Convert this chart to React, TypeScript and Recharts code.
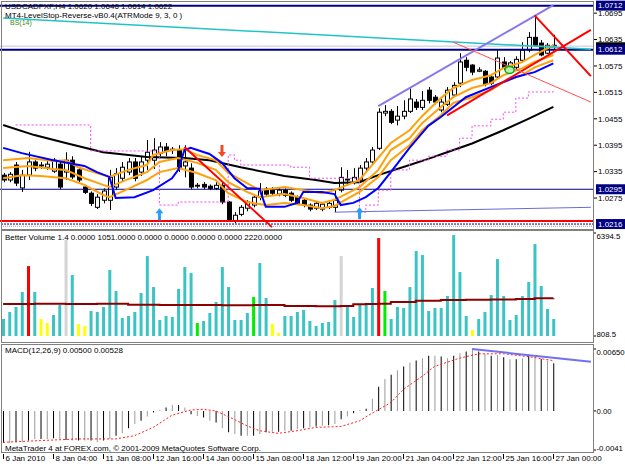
import React from 'react';
import { ComposedChart, Bar, Line, XAxis, YAxis, ReferenceLine, ReferenceDot, Cell } from 'recharts';

const FONT = '"Liberation Sans", Arial, sans-serif';
const SLOTS = 95; // 89 bars plus the empty chart shift on the right

// USDCAD H4, 6 Jan 20:00 .. 27 Jan 00:00
const opens = [
  1.0327, 1.0316, 1.035, 1.0298, 1.0327, 1.0357, 1.035, 1.0345, 1.0336, 1.0352,
  1.0334, 1.0361, 1.0339, 1.03, 1.0286, 1.0254, 1.027, 1.027, 1.03, 1.032,
  1.0334, 1.0357, 1.0334, 1.0361, 1.0361, 1.0377, 1.0391, 1.0386, 1.0384, 1.0348,
  1.0343, 1.0302, 1.0306, 1.0302, 1.0297, 1.0304, 1.0266, 1.0223, 1.0238, 1.0252,
  1.0259, 1.0277, 1.0295, 1.0293, 1.0284, 1.0293, 1.0286, 1.0277, 1.027, 1.0259,
  1.0252, 1.025, 1.0254, 1.0254, 1.0293, 1.0316, 1.0311, 1.0316, 1.0343, 1.0357,
  1.0388, 1.0468, 1.0472, 1.0452, 1.0461, 1.0472, 1.0493, 1.0481, 1.052, 1.0504,
  1.0475, 1.0488, 1.0509, 1.0536, 1.0588, 1.0577, 1.0563, 1.0563, 1.055, 1.055,
  1.0584, 1.0568, 1.0572, 1.0588, 1.0611, 1.064, 1.0627, 1.0604, 1.062,
];
const highs = [
  1.0332, 1.0334, 1.0357, 1.0339, 1.038, 1.0361, 1.0357, 1.0359, 1.0366, 1.0359,
  1.0379, 1.037, 1.0343, 1.0304, 1.029, 1.0284, 1.0297, 1.0339, 1.0343, 1.0357,
  1.0366, 1.0366, 1.037, 1.0407, 1.0411, 1.0402, 1.04, 1.0391, 1.0395, 1.0395,
  1.0354, 1.0309, 1.0311, 1.0306, 1.0311, 1.0313, 1.0268, 1.0243, 1.0259, 1.027,
  1.0284, 1.0309, 1.03, 1.03, 1.03, 1.0297, 1.029, 1.0281, 1.0275, 1.0263,
  1.0268, 1.0266, 1.027, 1.0295, 1.0345, 1.0339, 1.0343, 1.035, 1.0366, 1.0391,
  1.0479, 1.0486, 1.0477, 1.0484, 1.0497, 1.0524, 1.05, 1.0518, 1.0527, 1.0509,
  1.05, 1.0527, 1.0538, 1.0604, 1.0595, 1.0579, 1.0572, 1.0566, 1.0554, 1.0611,
  1.0595, 1.0586, 1.0597, 1.0629, 1.0652, 1.0686, 1.0634, 1.0627, 1.0646,
];
const lows = [
  1.0311, 1.0311, 1.0302, 1.0289, 1.0316, 1.0336, 1.0341, 1.0339, 1.0332, 1.0295,
  1.0316, 1.0318, 1.0311, 1.0284, 1.0257, 1.025, 1.0263, 1.0248, 1.0293, 1.0313,
  1.0327, 1.0313, 1.0325, 1.0339, 1.0341, 1.037, 1.037, 1.0375, 1.0334, 1.0322,
  1.0295, 1.0297, 1.0295, 1.0293, 1.0293, 1.0261, 1.0222, 1.0218, 1.0234, 1.0245,
  1.0254, 1.027, 1.0279, 1.0281, 1.0279, 1.0277, 1.0266, 1.0259, 1.0254, 1.0245,
  1.0248, 1.0245, 1.025, 1.0243, 1.0288, 1.0304, 1.0306, 1.0309, 1.0336, 1.035,
  1.0384, 1.0461, 1.0443, 1.044, 1.0454, 1.0468, 1.0475, 1.0475, 1.049, 1.0488,
  1.047, 1.0484, 1.0506, 1.0527, 1.0563, 1.0554, 1.0561, 1.0529, 1.0531, 1.0547,
  1.0566, 1.0561, 1.0566, 1.0586, 1.0606, 1.0618, 1.0597, 1.0602, 1.0614,
];
const closes = [
  1.0316, 1.0329, 1.0309, 1.0327, 1.0357, 1.0343, 1.0348, 1.0352, 1.0361, 1.03,
  1.0361, 1.0323, 1.0316, 1.0288, 1.0263, 1.0277, 1.0291, 1.0322, 1.033, 1.0345,
  1.0357, 1.032, 1.0357, 1.0379, 1.0384, 1.0391, 1.0382, 1.0384, 1.0345, 1.0357,
  1.03, 1.0304, 1.03, 1.0297, 1.0304, 1.0266, 1.0225, 1.0236, 1.0254, 1.0266,
  1.0277, 1.0293, 1.0284, 1.0286, 1.0293, 1.0281, 1.027, 1.0263, 1.0259, 1.025,
  1.0263, 1.0261, 1.0263, 1.027, 1.0322, 1.0318, 1.0322, 1.0343, 1.0357, 1.0384,
  1.047, 1.0472, 1.0447, 1.0461, 1.0472, 1.05, 1.0481, 1.0497, 1.0497, 1.0493,
  1.0493, 1.052, 1.0531, 1.0584, 1.0572, 1.0561, 1.0566, 1.0534, 1.0536, 1.0593,
  1.057, 1.0582, 1.059, 1.0611, 1.064, 1.0622, 1.06, 1.0622, 1.0622,
];

// indicator lines, read at [bar, price]
type Pt = [number, number];
const longMa: Pt[] = [
  [0, 1.0441], [5, 1.0418], [10, 1.04], [16, 1.0379], [23, 1.0368], [29, 1.0366], [33, 1.0361],
  [38, 1.0345], [45, 1.0325], [50, 1.0316], [53, 1.0309], [57, 1.0311], [60, 1.0327], [65, 1.035],
  [68, 1.0364], [71, 1.0379], [75, 1.0399], [80, 1.0429], [84, 1.0455], [88, 1.0482],
];
const envUpper: Pt[] = [
  [0, 1.0361], [4, 1.0366], [8, 1.0359], [10, 1.0361], [12, 1.0345], [16, 1.0327], [17, 1.0323],
  [20, 1.0339], [23, 1.035], [24, 1.0373], [27, 1.0384], [29, 1.0386], [31, 1.0373], [34, 1.0361],
  [36, 1.0332], [39, 1.0309], [41, 1.0293], [45, 1.03], [48, 1.0293], [51, 1.0286], [53, 1.0293],
  [57, 1.0316], [59, 1.035], [62, 1.04], [65, 1.0429], [67, 1.0461], [70, 1.0502], [72, 1.0525],
  [75, 1.0543], [78, 1.0554], [80, 1.057], [83, 1.0584], [85, 1.06], [88, 1.0622],
];
const envMid: Pt[] = [
  [0, 1.0343], [4, 1.0348], [8, 1.0341], [10, 1.0339], [13, 1.032], [16, 1.0305], [17, 1.03],
  [20, 1.0318], [23, 1.0334], [25, 1.0357], [28, 1.0366], [31, 1.0355], [34, 1.0339], [36, 1.0311],
  [39, 1.0289], [41, 1.0277], [45, 1.0284], [48, 1.0275], [51, 1.0264], [53, 1.0271], [57, 1.03],
  [60, 1.0339], [62, 1.0384], [65, 1.0411], [67, 1.0445], [70, 1.0482], [72, 1.0504], [75, 1.0525],
  [78, 1.0536], [80, 1.0554], [83, 1.057], [85, 1.0584], [88, 1.06],
];
const envLower: Pt[] = [
  [0, 1.032], [3, 1.0327], [6, 1.0325], [10, 1.032], [13, 1.0305], [16, 1.0282], [17, 1.0277],
  [20, 1.0296], [23, 1.0316], [25, 1.0334], [28, 1.0343], [31, 1.0332], [34, 1.0316], [36, 1.0286],
  [39, 1.0266], [42, 1.0259], [45, 1.0264], [48, 1.0259], [51, 1.0252], [53, 1.0257], [57, 1.0289],
  [60, 1.0323], [62, 1.0361], [65, 1.0395], [67, 1.0429], [70, 1.0463], [72, 1.0491], [75, 1.0504],
  [78, 1.052], [80, 1.0538], [83, 1.0554], [85, 1.0572], [88, 1.0588],
];
const levelStop: Pt[] = [
  [0, 1.0389], [3, 1.0377], [8, 1.0361], [13, 1.0348], [15, 1.0334], [17, 1.0323], [18, 1.0275],
  [21, 1.0277], [24, 1.0293], [27, 1.032], [28, 1.0339], [29, 1.0384], [30, 1.0389], [33, 1.0375],
  [35, 1.0355], [37, 1.032], [39, 1.0298], [41, 1.0296], [42, 1.0255], [45, 1.0255], [47, 1.0264],
  [48, 1.0289], [51, 1.0289], [53, 1.0284], [54, 1.0259], [56, 1.0264], [58, 1.0277], [60, 1.0298],
  [62, 1.0334], [65, 1.0389], [68, 1.0439], [70, 1.0459], [74, 1.0504], [78, 1.0527], [82, 1.055],
  [85, 1.0561], [88, 1.0581],
];
const bsStop: Pt[] = [
  [2, 1.0441], [12, 1.0441], [14, 1.0382], [24, 1.0382], [25, 1.0259], [27, 1.0259], [28, 1.0266],
  [35, 1.0266], [36, 1.0373], [37, 1.0361], [38, 1.035], [45, 1.035], [46, 1.0345], [49, 1.032],
  [56, 1.032], [57, 1.0243], [58, 1.0259], [60, 1.0293], [62, 1.0339], [65, 1.0361], [68, 1.037],
  [71, 1.0384], [73, 1.0411], [75, 1.0439], [78, 1.0454], [80, 1.047], [82, 1.0502], [84, 1.0516],
  [88, 1.052],
];

// Better Volume 1.4
const volumes = [
  1730, 2110, 2380, 3193, 4600, 3193, 1730, 1513, 1947, 2488,
  6012, 4115, 1458, 1350, 2163, 2110, 2380, 4385, 3247, 1784,
  1893, 2110, 3139, 5144, 3464, 1676, 1893, 1838, 3356, 4548,
  4223, 1513, 1621, 2055, 2651, 4548, 3464, 1676, 1676, 2055,
  2922, 4765, 2868, 1458, 971, 1893, 1893, 2110, 2217, 1621,
  1350, 1513, 1567, 2759, 5144, 2488, 1838, 2488, 2488, 3410,
  6120, 3247, 1730, 2380, 2325, 3464, 5416, 5199, 2163, 2325,
  2325, 2976, 6283, 4277, 1893, 1134, 1730, 2110, 3030, 4982,
  2976, 1676, 1947, 2976, 3735, 5795, 3518, 2271, 1730,
];
// n neutral, u climax up, d climax down, l low volume, c churn
const volKinds = (
  'nnnnunllnn' + 'dnllnnnnnn' + 'nnnnnnnnnn' + 'ncnnnnnnnn' + 'cnnllnnnnn' +
  'nnnndnnnnn' + 'ucnnnnnnnn' + 'nnnnnlnnnn' + 'nnnnnnnnn'
).split('');
const volMa: Pt[] = [
  [0, 2540], [5, 2560], [10, 2540], [15, 2560], [20, 2500], [25, 2490], [30, 2490], [35, 2480],
  [40, 2490], [45, 2440], [50, 2420], [54, 2440], [56, 2530], [58, 2540], [60, 2560], [62, 2650],
  [66, 2720], [70, 2760], [74, 2780], [78, 2790], [82, 2810], [85, 2850], [88, 2860],
];

// MACD(12,26,9)
const macdHist = [
  -0.00336, -0.00336, -0.00329, -0.00329, -0.00311, -0.00294, -0.00294, -0.00294, -0.00287, -0.00294,
  -0.00304, -0.00311, -0.00311, -0.00311, -0.00311, -0.00329, -0.00311, -0.00294, -0.0026, -0.00232,
  -0.00183, -0.00138, -0.00104, -0.00059, -0.00017, 0.0001, 0.00035, 0.00062, 0.00062, 0.00035,
  -0.00035, -0.00052, -0.00069, -0.00104, -0.00121, -0.00183, -0.00225, -0.00242, -0.0026, -0.0026,
  -0.0026, -0.00242, -0.00225, -0.00218, -0.00218, -0.00208, -0.00208, -0.0019, -0.00183, -0.00173,
  -0.00163, -0.00156, -0.00149, -0.00138, -0.00087, -0.00059, -0.00024, 0.0001, 0.00024, 0.00128,
  0.00253, 0.00336, 0.00381, 0.00426, 0.00467, 0.00509, 0.00529, 0.00554, 0.00578, 0.00578,
  0.00571, 0.00554, 0.00578, 0.00606, 0.00623, 0.0064, 0.00623, 0.00599, 0.00578, 0.00588,
  0.00564, 0.00543, 0.00543, 0.00554, 0.00578, 0.0057, 0.00548, 0.0053, 0.005,
];
const macdSignal: Pt[] = [
  [0, -0.00329], [6, -0.00311], [12, -0.00294], [18, -0.00294], [21, -0.0026], [24, -0.00173],
  [27, -0.00045], [30, 0.0001], [32, 0.00017], [34, 0], [36, -0.00059], [39, -0.00156],
  [41, -0.00208], [44, -0.00235], [47, -0.00208], [50, -0.00173], [54, -0.00163], [57, -0.00104],
  [59, -0.00024], [62, 0.00087], [64, 0.00225], [67, 0.00363], [69, 0.00467], [73, 0.00554],
  [76, 0.00599], [80, 0.006], [84, 0.0057], [88, 0.00528],
];

const timeTicks = [0, 8, 16, 24, 32, 40, 48, 56, 64, 72, 80, 88];
const timeLabels = [
  '6 Jan 2010', '8 Jan 04:00', '11 Jan 08:00', '12 Jan 16:00', '14 Jan 00:00', '15 Jan 08:00',
  '18 Jan 12:00', '19 Jan 20:00', '21 Jan 04:00', '22 Jan 12:00', '25 Jan 16:00', '27 Jan 00:00',
];

const priceTicks = [1.0695, 1.0635, 1.0575, 1.0515, 1.0455, 1.0395, 1.0335, 1.0275, 1.0712, 1.0612, 1.0295, 1.0216];
const levelMarks = [1.0712, 1.0612, 1.0295, 1.0216];
const bidPrice = 1.0622;

const spread = (pts: Pt[]) => {
  const out: (number | null)[] = new Array(SLOTS).fill(null);
  pts.forEach(([i, v]) => {
    out[i] = v;
  });
  return out;
};

const cols = {
  ma: spread(longMa),
  up: spread(envUpper),
  mid: spread(envMid),
  lo: spread(envLower),
  stop: spread(levelStop),
  bs: spread(bsStop),
  volMa: spread(volMa),
  sig: spread(macdSignal),
};

const rows = Array.from({ length: SLOTS }, (_, i) => {
  const has = i < opens.length;
  return {
    i,
    o: has ? opens[i] : null,
    h: has ? highs[i] : null,
    l: has ? lows[i] : null,
    c: has ? closes[i] : null,
    range: has ? [lows[i], highs[i]] : null,
    ma: cols.ma[i],
    up: cols.up[i],
    mid: cols.mid[i],
    lo: cols.lo[i],
    stop: cols.stop[i],
    bs: cols.bs[i],
    vol: has ? volumes[i] : null,
    volMa: cols.volMa[i],
    macd: has ? macdHist[i] : null,
    sig: cols.sig[i],
  };
});

const kindColor: Record<string, string> = {
  n: '#3cc4c4',
  u: '#ff0000',
  d: '#d4d4d4',
  l: '#ffff00',
  c: '#00ee00',
};

function Candle(props: any) {
  const { x, y, width, height, payload } = props;
  if (!payload || payload.o == null || !isFinite(y) || !isFinite(height)) return <g />;
  const { o, h, l, c } = payload;
  const top = Math.min(y, y + height);
  const span = Math.abs(height);
  const k = span / (h - l);
  const cx = Math.round(x + width / 2) + 0.5;
  const bTop = top + (h - Math.max(o, c)) * k;
  const bBot = top + (h - Math.min(o, c)) * k;
  return (
    <g>
      <line x1={cx} x2={cx} y1={top} y2={top + span} stroke="#000" strokeWidth={1} />
      <rect
        x={cx - 2}
        y={bTop}
        width={4}
        height={Math.max(bBot - bTop, 0.8)}
        fill={c >= o ? '#fff' : '#000'}
        stroke="#000"
        strokeWidth={1}
      />
    </g>
  );
}

function PriceTick(props: any) {
  const { x, y, payload } = props;
  const v = payload.value as number;
  const label = v.toFixed(4);
  if (levelMarks.includes(v)) {
    return (
      <g>
        <rect x={x + 2} y={y - 5} width={32} height={10} fill="#000080" />
        <text x={x + 4} y={y} dy="0.35em" fill="#fff" fontSize={8} fontFamily={FONT}>
          {label}
        </text>
      </g>
    );
  }
  return (
    <g>
      <line x1={x} x2={x + 3} y1={y} y2={y} stroke="#000" />
      <text x={x + 4} y={y} dy="0.35em" fill="#000" fontSize={8} fontFamily={FONT}>
        {label}
      </text>
    </g>
  );
}

function SideTick(props: any) {
  const { x, y, payload, labels, top } = props;
  const v = payload.value as number;
  const shift = v === top ? 3 : v === labels.min ? -2 : 0;
  return (
    <g>
      <line x1={x} x2={x + 2} y1={y} y2={y} stroke="#000" />
      <text x={x + 2.5} y={y + shift} dy="0.35em" fill="#000" fontSize={7.8} fontFamily={FONT}>
        {labels[String(v)]}
      </text>
    </g>
  );
}

function TimeTick(props: any) {
  const { x, y, payload } = props;
  const idx = timeTicks.indexOf(payload.value);
  const gx = Math.round(x) + 0.5;
  return (
    <g>
      <line x1={gx} x2={gx} y1={y + 4} y2={y + 9} stroke="#000" />
      <text x={gx + 2} y={y + 11} fill="#000" fontSize={8} fontFamily={FONT}>
        {timeLabels[idx]}
      </text>
    </g>
  );
}

const UpArrow = (p: any) => {
  const { cx, cy } = p;
  const pts = [
    [cx, cy], [cx - 4, cy + 5], [cx - 1.5, cy + 5], [cx - 1.5, cy + 12],
    [cx + 1.5, cy + 12], [cx + 1.5, cy + 5], [cx + 4, cy + 5],
  ].map((q) => q.join(',')).join(' ');
  return <polygon points={pts} fill="#2a9df4" />;
};

const DownArrow = (p: any) => {
  const { cx, cy } = p;
  const pts = [
    [cx, cy], [cx - 4, cy - 5], [cx - 1.5, cy - 5], [cx - 1.5, cy - 12],
    [cx + 1.5, cy - 12], [cx + 1.5, cy - 5], [cx + 4, cy - 5],
  ].map((q) => q.join(',')).join(' ');
  return <polygon points={pts} fill="#f04a24" />;
};

const ChurnRing = (p: any) => (
  <ellipse cx={p.cx} cy={p.cy} rx={4.5} ry={3.5} fill="#b8f0b8" stroke="#10b010" strokeWidth={1.5} />
);

// the bid marker sits on the axis behind the 1.0612 level box
const BidMark = (p: any) => <rect x={596} y={p.cy - 3} width={29} height={5} fill="#000" />;

const buyArrows = [
  { i: 25, price: 1.0252 },
  { i: 57, price: 1.0254 },
];
const sellArrows = [{ i: 35, price: 1.0368 }];
const churnMarks = [{ i: 81, price: 1.0566 }];

const trendLines = [
  { from: [0, 1.0684], to: [94, 1.0613], color: '#20c4c4', w: 1.5 },
  { from: [60, 1.0484], to: [88, 1.0713], color: '#8878ee', w: 2 },
  { from: [53, 1.0243], to: [94, 1.0254], color: '#6a6ad8', w: 1 },
  { from: [29, 1.0391], to: [43, 1.0209], color: '#ff0000', w: 2 },
  { from: [71, 1.0463], to: [94, 1.0657], color: '#ff0000', w: 2 },
  { from: [85, 1.069], to: [94, 1.0552], color: '#ff0000', w: 2 },
  { from: [72, 1.0629], to: [94, 1.0493], color: '#ff5050', w: 1 },
];

const textStyle: React.CSSProperties = {
  position: 'absolute',
  fontFamily: FONT,
  fontSize: 8,
  lineHeight: '9px',
  whiteSpace: 'nowrap',
  color: '#000',
};

const frame = (top: number, height: number): React.CSSProperties => ({
  position: 'absolute',
  left: 1,
  top,
  width: 593,
  height,
  border: '1px solid #808080',
  boxSizing: 'border-box',
  pointerEvents: 'none',
});

export default function App() {
  const yAxisProps = {
    orientation: 'right' as const,
    width: 31,
    axisLine: false,
    tickLine: false,
    tickSize: 0,
    tickMargin: 0,
    interval: 0 as const,
    allowDataOverflow: true,
    type: 'number' as const,
  };

  return (
    <div
      style={{
        position: 'fixed',
        left: 0,
        top: 0,
        width: 625,
        height: 469,
        background: '#fff',
        overflow: 'hidden',
      }}
    >
      {/* price window */}
      <div style={{ position: 'absolute', left: 0, top: 0 }}>
        <ComposedChart width={625} height={231} data={rows} margin={{ top: 3, right: 0, bottom: 3, left: 0 }}>
          <XAxis dataKey="i" type="category" hide />
          <YAxis {...yAxisProps} domain={[1.0207, 1.0718]} ticks={priceTicks} tick={<PriceTick />} />
          <ReferenceLine y={1.0712} stroke="#000080" strokeWidth={2} />
          <ReferenceLine y={1.062} stroke="#c4c4e4" strokeWidth={1} />
          <ReferenceLine y={1.0612} stroke="#000080" strokeWidth={2} />
          <ReferenceLine y={1.0295} stroke="#000080" strokeWidth={1} />
          <ReferenceLine y={1.0223} stroke="#ff0000" strokeWidth={2} />
          <ReferenceLine y={1.0216} stroke="#000080" strokeWidth={1} strokeDasharray="2 1" />
          <ReferenceLine y={1.0211} stroke="#a0a0a0" strokeWidth={1} strokeDasharray="1 1" />
          <Bar dataKey="range" barSize={5} shape={<Candle />} isAnimationActive={false} />
          <Line dataKey="ma" stroke="#000" strokeWidth={2} dot={false} connectNulls isAnimationActive={false} />
          <Line dataKey="bs" type="stepAfter" stroke="#ff44ff" strokeWidth={1} strokeDasharray="2 2" dot={false} connectNulls isAnimationActive={false} />
          <Line dataKey="up" stroke="#ffa20a" strokeWidth={2} dot={false} connectNulls isAnimationActive={false} />
          <Line dataKey="mid" stroke="#ffa20a" strokeWidth={2} dot={false} connectNulls isAnimationActive={false} />
          <Line dataKey="lo" stroke="#ffa20a" strokeWidth={2} dot={false} connectNulls isAnimationActive={false} />
          <Line dataKey="stop" stroke="#0000ff" strokeWidth={2} dot={false} connectNulls isAnimationActive={false} />
          {trendLines.map((t, k) => (
            <ReferenceLine
              key={k}
              segment={[
                { x: t.from[0], y: t.from[1] },
                { x: t.to[0], y: t.to[1] },
              ]}
              stroke={t.color}
              strokeWidth={t.w}
            />
          ))}
          {buyArrows.map((a) => (
            <ReferenceDot key={'b' + a.i} x={a.i} y={a.price} shape={(p: any) => <UpArrow {...p} />} />
          ))}
          {sellArrows.map((a) => (
            <ReferenceDot key={'s' + a.i} x={a.i} y={a.price} shape={(p: any) => <DownArrow {...p} />} />
          ))}
          {churnMarks.map((a) => (
            <ReferenceDot key={'c' + a.i} x={a.i} y={a.price} shape={(p: any) => <ChurnRing {...p} />} />
          ))}
          <ReferenceDot x={88} y={bidPrice} ifOverflow="visible" shape={(p: any) => <BidMark {...p} />} />
        </ComposedChart>
      </div>

      {/* Better Volume window */}
      <div style={{ position: 'absolute', left: 0, top: 230 }}>
        <ComposedChart width={625} height={110} data={rows} margin={{ top: 3, right: 0, bottom: 4, left: 0 }}>
          <XAxis dataKey="i" type="category" hide />
          <YAxis
            {...yAxisProps}
            domain={[808.5, 6394.5]}
            ticks={[6394.5, 808.5]}
            tick={<SideTick top={6394.5} labels={{ '6394.5': '6394.5', '808.5': '808.5', min: 808.5 }} />}
          />
          <Bar dataKey="vol" barSize={3} isAnimationActive={false}>
            {rows.map((r, k) => (
              <Cell key={k} fill={kindColor[volKinds[k] ?? 'n']} />
            ))}
          </Bar>
          <Line dataKey="volMa" type="stepAfter" stroke="#8b0000" strokeWidth={2} dot={false} connectNulls isAnimationActive={false} />
        </ComposedChart>
      </div>

      {/* MACD window */}
      <div style={{ position: 'absolute', left: 0, top: 343 }}>
        <ComposedChart width={625} height={126} data={rows} margin={{ top: 6, right: 0, bottom: 0, left: 0 }}>
          <XAxis
            dataKey="i"
            type="category"
            ticks={timeTicks}
            interval={0}
            height={19}
            tickLine={false}
            axisLine={false}
            tickSize={0}
            tickMargin={0}
            tick={<TimeTick />}
          />
          <YAxis
            {...yAxisProps}
            domain={[-0.0041, 0.0065]}
            ticks={[0.0065, 0, -0.0041]}
            tick={<SideTick top={0.0065} labels={{ '0.0065': '0.00650', '0': '0.00', '-0.0041': '-0.0041', min: -0.0041 }} />}
          />
          <Bar dataKey="macd" barSize={1} isAnimationActive={false}>
            {rows.map((r, k) => (
              <Cell key={k} fill={k % 2 === 0 ? '#000' : '#9a9a9a'} />
            ))}
          </Bar>
          <Line dataKey="sig" stroke="#ff2020" strokeWidth={1} strokeDasharray="2 2" dot={false} connectNulls isAnimationActive={false} />
          <ReferenceLine
            segment={[
              { x: 75, y: 0.0065 },
              { x: 94, y: 0.00515 },
            ]}
            stroke="#7070f0"
            strokeWidth={2}
          />
        </ComposedChart>
      </div>

      <div style={frame(1, 229)} />
      <div style={frame(230, 113)} />
      <div style={frame(344, 109)} />

      <div style={{ ...textStyle, left: 5, top: 2 }}>USDCADFXF,H4 1.0620 1.0646 1.0614 1.0622</div>
      <div style={{ ...textStyle, left: 5, top: 11 }}>MT4-LevelStop-Reverse-vB0.4(ATRMode 9, 3, 0 )</div>
      <div style={{ ...textStyle, left: 10, top: 18, fontSize: 7, color: '#3a8a1a' }}>BS(14)</div>
      <div style={{ ...textStyle, left: 5, top: 233 }}>
        Better Volume 1.4 0.0000 1051.0000 0.0000 0.0000 0.0000 0.0000 2220.0000
      </div>
      <div style={{ ...textStyle, left: 5, top: 346 }}>MACD(12,26,9) 0.00500 0.00528</div>
      <div style={{ ...textStyle, left: 5, top: 444 }}>
        MetaTrader 4 at FOREX.com, © 2001-2009 MetaQuotes Software Corp.
      </div>
    </div>
  );
}
